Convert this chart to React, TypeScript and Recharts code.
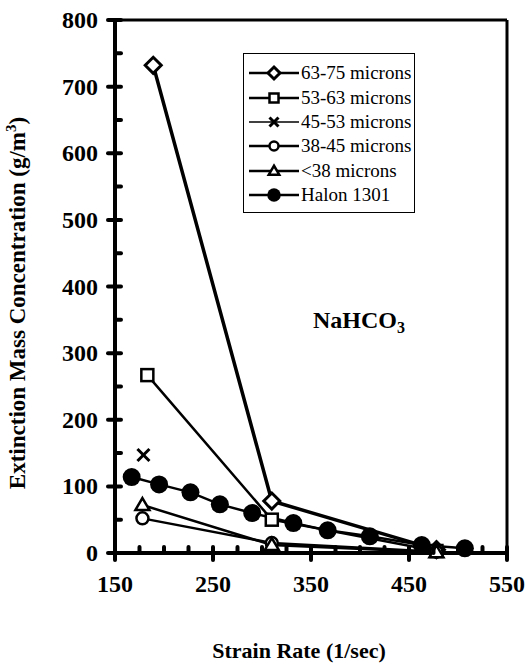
import { LineChart, Line, XAxis, YAxis, ReferenceLine } from "recharts";

// strain rate (1/sec) and extinction mass concentration (g/m3) per particle size
const rate6375 = [189, 310, 478];
const conc6375 = [732, 78, 5];
const rate5363 = [183, 310, 478];
const conc5363 = [267, 50, 3];
const rate4553 = [179];
const conc4553 = [147];
const rate3845 = [178, 310, 478];
const conc3845 = [52, 15, 2];
const rate38 = [178, 310, 478];
const conc38 = [72, 12, 1];
const rateHalon = [167, 195, 227, 257, 290, 332, 367, 410, 463, 507];
const concHalon = [114, 103, 91, 73, 60, 45, 34, 25, 12, 7];

const xTicks = [150, 175, 200, 225, 250, 275, 300, 325, 350, 375, 400, 425, 450, 475, 500, 525, 550];
const yTicks = [0, 50, 100, 150, 200, 250, 300, 350, 400, 450, 500, 550, 600, 650, 700, 750, 800];

const legendNames = ["63-75 microns", "53-63 microns", "45-53 microns", "38-45 microns", "<38 microns", "Halon 1301"];

const FONT = "'Liberation Serif', 'Times New Roman', serif";

const toPoints = (xs: number[], ys: number[]) => xs.map((x, i) => ({ x, y: ys[i] }));

// marker shapes, s = scale
function Marker({ kind, cx, cy, s = 1 }: { kind: string; cx: number; cy: number; s?: number }) {
  if (kind === "diamond") {
    const d = 8 * s;
    return (
      <polygon
        points={`${cx},${cy - d} ${cx + d},${cy} ${cx},${cy + d} ${cx - d},${cy}`}
        fill="#fff"
        stroke="#000"
        strokeWidth={3}
      />
    );
  }
  if (kind === "square") {
    const h = 6 * s;
    return <rect x={cx - h} y={cy - h} width={2 * h} height={2 * h} fill="#fff" stroke="#000" strokeWidth={2.5} />;
  }
  if (kind === "cross") {
    const h = 6 * s;
    return (
      <g stroke="#000" strokeWidth={3}>
        <line x1={cx - h} y1={cy - h} x2={cx + h} y2={cy + h} />
        <line x1={cx - h} y1={cy + h} x2={cx + h} y2={cy - h} />
      </g>
    );
  }
  if (kind === "circle") return <circle cx={cx} cy={cy} r={6 * s} fill="#fff" stroke="#000" strokeWidth={2.5} />;
  if (kind === "triangle") {
    const h = 7 * s;
    return (
      <polygon
        points={`${cx},${cy - h} ${cx + h},${cy + h * 0.7} ${cx - h},${cy + h * 0.7}`}
        fill="#fff"
        stroke="#000"
        strokeWidth={2.5}
      />
    );
  }
  return <circle cx={cx} cy={cy} r={9 * s} fill="#000" />;
}

const kinds = ["diamond", "square", "cross", "circle", "triangle", "filled"];

const dotFor = (kind: string) => (p: any) => <Marker key={`${kind}-${p.index}`} kind={kind} cx={p.cx} cy={p.cy} />;

const XTick = ({ x, y, payload }: any) => {
  const v = payload.value;
  if (v % 100 === 50) {
    return (
      <g>
        <line x1={x} x2={x} y1={y - 6} y2={y + 7} stroke="#000" strokeWidth={4} strokeLinecap="round" />
        <text x={x} y={y + 39} textAnchor="middle" fontSize={24} fontWeight="bold" fontFamily={FONT}>
          {v}
        </text>
      </g>
    );
  }
  return <line x1={x} x2={x} y1={y - 6} y2={y} stroke="#000" strokeWidth={4} strokeLinecap="round" />;
};

const YTick = ({ x, y, payload }: any) => {
  const v = payload.value;
  if (v % 100 === 0) {
    return (
      <g>
        <line x1={x - 7} x2={x + 6} y1={y} y2={y} stroke="#000" strokeWidth={4} strokeLinecap="round" />
        <text x={x - 17} y={y + 8} textAnchor="end" fontSize={24} fontWeight="bold" fontFamily={FONT}>
          {v}
        </text>
      </g>
    );
  }
  return <line x1={x} x2={x + 6} y1={y} y2={y} stroke="#000" strokeWidth={4} strokeLinecap="round" />;
};

const YTitle = () => {
  const cx = 25;
  const cy = 303;
  return (
    <text
      x={cx}
      y={cy}
      transform={`rotate(-90 ${cx} ${cy})`}
      textAnchor="middle"
      fontSize={23}
      fontWeight="bold"
      fontFamily={FONT}
    >
      Extinction Mass Concentration (g/m
      <tspan dy={-9} fontSize={15}>3</tspan>
      <tspan dy={9}>)</tspan>
    </text>
  );
};

const XTitle = ({ viewBox }: any) => (
  <text
    x={viewBox.x + viewBox.width / 2 - 12}
    y={658}
    textAnchor="middle"
    fontSize={22}
    fontWeight="bold"
    fontFamily={FONT}
  >
    Strain Rate (1/sec)
  </text>
);

function LegendBox() {
  return (
    <div
      style={{
        position: "absolute",
        left: 243,
        top: 53,
        width: 172,
        boxSizing: "border-box",
        border: "1.5px solid #000",
        background: "#fff",
        padding: "7px 2px 5px 4px",
        fontFamily: FONT,
        fontSize: 19,
      }}
    >
      {legendNames.map((name, i) => (
        <div key={name} style={{ display: "flex", alignItems: "center", height: 24.4 }}>
          <svg width={52} height={20} style={{ flex: "none" }}>
            <line x1={1} x2={51} y1={10} y2={10} stroke="#000" strokeWidth={i === 2 ? 1.5 : 2.5} />
            <Marker kind={kinds[i]} cx={26} cy={10} s={0.75} />
          </svg>
          <span style={{ marginLeft: 1, whiteSpace: "nowrap", fontFamily: FONT }}>{name}</span>
        </div>
      ))}
    </div>
  );
}

export default function App() {
  const series = [
    toPoints(rate6375, conc6375),
    toPoints(rate5363, conc5363),
    toPoints(rate4553, conc4553),
    toPoints(rate3845, conc3845),
    toPoints(rate38, conc38),
    toPoints(rateHalon, concHalon),
  ];

  return (
    <div style={{ position: "absolute", left: 0, top: 0, width: 526, height: 672, background: "#fff" }}>
      <LineChart width={526} height={672} margin={{ top: 20, right: 19, bottom: 0, left: 0 }}>
        <XAxis
          type="number"
          dataKey="x"
          domain={[150, 550]}
          ticks={xTicks}
          interval={0}
          tick={<XTick />}
          tickSize={0}
          tickMargin={0}
          height={119}
          axisLine={{ stroke: "#000", strokeWidth: 4 }}
          allowDuplicatedCategory={false}
          label={<XTitle />}
        />
        <YAxis
          type="number"
          dataKey="y"
          domain={[0, 800]}
          ticks={yTicks}
          interval={0}
          tick={<YTick />}
          tickSize={0}
          tickMargin={0}
          width={115}
          axisLine={{ stroke: "#000", strokeWidth: 4 }}
          label={<YTitle />}
        />
        <ReferenceLine y={800} stroke="#000" strokeWidth={3} />
        <ReferenceLine x={550} stroke="#000" strokeWidth={3} />
        {series.map((data, i) => (
          <Line
            key={legendNames[i]}
            data={data}
            dataKey="y"
            name={legendNames[i]}
            type="linear"
            stroke="#000"
            strokeWidth={i === 0 ? 3.5 : 2.5}
            dot={dotFor(kinds[i])}
            activeDot={false}
            isAnimationActive={false}
          />
        ))}
      </LineChart>
      <LegendBox />
      <div
        style={{
          position: "absolute",
          left: 313,
          top: 307,
          fontFamily: FONT,
          fontWeight: "bold",
          fontSize: 24,
          whiteSpace: "nowrap",
        }}
      >
        NaHCO<sub style={{ fontSize: 16, verticalAlign: "-5px" }}>3</sub>
      </div>
    </div>
  );
}
